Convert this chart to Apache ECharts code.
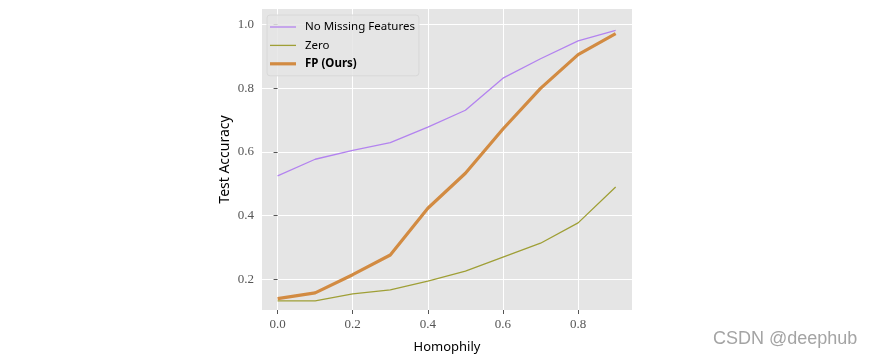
<!DOCTYPE html>
<html>
<head>
<meta charset="utf-8">
<script src="https://cdn.jsdelivr.net/npm/echarts@6/dist/echarts.min.js"></script>
<style>html,body{margin:0;padding:0;background:#fff}#c{width:875px;height:359px}</style>
</head>
<body>
<div id="c"></div>
<script>
const homophily = [0.0, 0.1, 0.2, 0.3, 0.4, 0.5, 0.6, 0.7, 0.8, 0.9];
const noMissing = [0.525, 0.577, 0.605, 0.629, 0.678, 0.731, 0.832, 0.893, 0.949, 0.982];
const zero = [0.132, 0.132, 0.154, 0.166, 0.194, 0.225, 0.269, 0.313, 0.377, 0.490];
const fpOurs = [0.139, 0.157, 0.214, 0.276, 0.423, 0.533, 0.672, 0.800, 0.906, 0.972];
const xTicks = [0.0, 0.2, 0.4, 0.6, 0.8];
const yTicks = [0.2, 0.4, 0.6, 0.8, 1.0];
const seriesNames = ['No Missing Features', 'Zero', 'FP (Ours)'];

const pair = (ys) => homophily.map((x, i) => [x, ys[i]]);
const tickFont = {fontFamily: 'Liberation Serif', fontSize: 13, color: '#555'};
const colors = ['#b383ef', '#9f9f36', '#d28b42'];
const widths = [1.3, 1.3, 3.2];

const chart = echarts.init(document.getElementById('c'));
chart.setOption({
  animation: false,
  backgroundColor: '#fff',
  grid: {left: 262, right: 243, top: 9, bottom: 43, backgroundColor: '#e5e5e5', show: true, borderWidth: 0},
  xAxis: {
    type: 'value', min: -0.0415, max: 0.9435,
    name: 'Homophily', nameLocation: 'middle', nameGap: 31,
    nameTextStyle: {fontFamily: 'Noto Sans', fontSize: 13, color: '#000'},
    axisLine: {show: false},
    axisTick: {show: true, length: 4, customValues: xTicks, lineStyle: {color: '#555'}},
    axisLabel: {customValues: xTicks, formatter: v => v.toFixed(1), margin: 8, ...tickFont},
    splitLine: {show: true, lineStyle: {color: '#fff', width: 1}}
  },
  yAxis: {
    type: 'value', min: 0.103, max: 1.0494,
    name: 'Test Accuracy', nameLocation: 'middle', nameGap: 30,
    nameTextStyle: {fontFamily: 'Noto Sans', fontSize: 14, color: '#000'},
    axisLine: {show: false},
    axisTick: {show: true, length: 4, customValues: yTicks, lineStyle: {color: '#555'}},
    axisLabel: {customValues: yTicks, formatter: v => v.toFixed(1), margin: 8, ...tickFont},
    splitLine: {show: true, lineStyle: {color: '#fff', width: 1}}
  },
  legend: {
    orient: 'vertical', left: 267, top: 15,
    data: seriesNames.map((n, i) => ({
      name: n,
      icon: 'path://M0,0h26v' + widths[i] + 'h-26z'
    })),
    itemWidth: 26, itemHeight: 12, itemGap: 6.4,
    padding: [6, 4, 6, 3],
    backgroundColor: 'rgba(229,229,229,0.85)',
    borderColor: '#d8d8d8', borderWidth: 1, borderRadius: 3,
    textStyle: {fontFamily: 'Noto Sans', fontSize: 11.5, color: '#000',
      rich: {
        n: {fontFamily: 'Noto Sans', fontSize: 11.5, color: '#000', padding: [0, 0, 0, 4]},
        b: {fontFamily: 'Noto Sans', fontSize: 11.5, fontWeight: 'bold', color: '#000', padding: [0, 0, 0, 4]}
      }},
    formatter: n => n === 'FP (Ours)' ? '{b|FP (Ours)}' : '{n|' + n + '}'
  },
  series: seriesNames.map((n, i) => ({
    name: n, type: 'line',
    data: pair([noMissing, zero, fpOurs][i]),
    symbol: 'none',
    lineStyle: {color: colors[i], width: widths[i]},
    itemStyle: {color: colors[i]}
  })),
  graphic: [{
    type: 'text', left: 713, top: 330,
    style: {text: 'CSDN @deephub', fill: '#a4a4a4', font: '18px "Liberation Sans"'}
  }]
});
</script>
</body>
</html>
